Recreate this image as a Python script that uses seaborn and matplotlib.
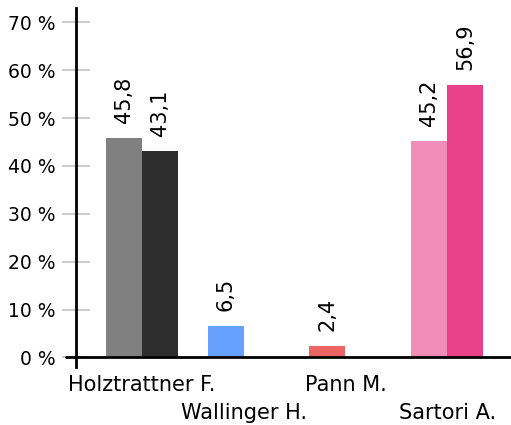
import matplotlib
matplotlib.use("Agg")
import matplotlib.pyplot as plt
import seaborn as sns
import pandas as pd

# Stimmenanteile je Kandidat, zwei Spalten pro Kandidat
kandidaten = ["Holztrattner F.", "Wallinger H.", "Pann M.", "Sartori A."]
werte_a = [45.8, 6.5, 2.4, 45.2]
werte_b = [43.1, None, None, 56.9]
farben_a = ["#808080", "#66a1ff", "#ec6464", "#f28cb9"]
farben_b = ["#2e2e2e", None, None, "#e84089"]
y_ticks = [0, 10, 20, 30, 40, 50, 60, 70]

rows = []
for k, a, b in zip(kandidaten, werte_a, werte_b):
    rows.append({"kandidat": k, "slot": "a", "wert": a})
    if b is not None:
        rows.append({"kandidat": k, "slot": "b", "wert": b})
df = pd.DataFrame(rows)

sns.set_style("white")
plt.rcParams["font.family"] = ["DejaVu Sans"]
plt.rcParams["text.color"] = "black"
plt.rcParams["xtick.color"] = "black"
plt.rcParams["ytick.color"] = "black"

fig = plt.figure(figsize=(5.11, 4.25), dpi=100)
ax = fig.add_axes([76 / 511, 58 / 425, 435 / 511, 359 / 425])

sns.barplot(data=df, x="kandidat", y="wert", hue="slot", order=kandidaten,
            hue_order=["a", "b"], width=0.708, gap=0, dodge=True,
            saturation=1, legend=False, ax=ax)

# each bar gets its own colour
for cont, farben in zip(ax.containers, [farben_a, farben_b]):
    for bar in cont:
        idx = int(round(bar.get_x() + bar.get_width() / 2))
        bar.set_facecolor(farben[idx])
        bar.set_edgecolor("none")
    ax.bar_label(cont, fmt=lambda v: f"{v:.1f}".replace(".", ","),
                 rotation=90, padding=11, fontsize=15, color="black")

ax.set_xlim(-0.649, 3.628)
ax.set_ylim(-2.0, 73.0)
ax.set_yticks(y_ticks)
ax.set_yticklabels([f"{t} %" for t in y_ticks], fontsize=13.5, color="black")

# labels alternate between two rows
ax.set_xticks([0, 2])
ax.set_xticklabels([kandidaten[0], kandidaten[2]], fontsize=15, color="black")
ax.set_xticks([1, 3], minor=True)
ax.set_xticklabels([kandidaten[1], kandidaten[3]], minor=True, fontsize=15,
                   color="black")
ax.tick_params(axis="y", direction="inout", length=20, width=1.5,
               color="#cccccc", pad=5, left=True, labelcolor="black")
ax.tick_params(axis="x", which="major", length=0, pad=6)
ax.tick_params(axis="x", which="minor", length=0, pad=26)
ax.set_xlabel("")
ax.set_ylabel("")

for s in ["top", "right", "bottom"]:
    ax.spines[s].set_visible(False)
ax.spines["left"].set_color("black")
ax.spines["left"].set_linewidth(2)
ax.axhline(0, xmin=-10 / 435, xmax=1, color="black", lw=2, clip_on=False, zorder=5)

fig.savefig("out.png", dpi=100)
